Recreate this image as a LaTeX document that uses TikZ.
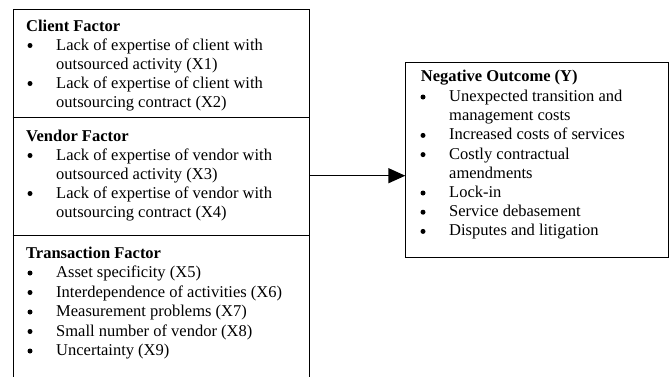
\documentclass[tikz,border=0pt]{standalone}
\usepackage{fontspec}
\setmainfont{Liberation Serif}
\usetikzlibrary{arrows.meta}
\begin{document}
\begin{tikzpicture}[x=1pt,y=-1pt,
  font=\fontsize{16.5}{19.3}\selectfont,
  box/.style={draw, line width=1pt, inner sep=0pt},
  txt/.style={anchor=base west, inner sep=0pt},
  hd/.style={txt, font=\fontsize{16.5}{19.3}\selectfont\bfseries},
  bul/.style={circle, fill, inner sep=0pt, minimum size=5pt, yshift=4.5pt},
  divider/.style={line width=1pt},
  conn/.style={line width=1.4pt, -{Triangle[length=17pt,width=15pt]}}]
\useasboundingbox (0,0) rectangle (670,376);
\fill[white] (0,0) rectangle (670,376);
% boxes
\node[box, minimum width=296.6pt, minimum height=370pt, anchor=north west] (left) at (12.7,9) {};
\node[box, minimum width=263pt, minimum height=195pt, anchor=north west] (right) at (405.3,61.7) {};
\coordinate (d1) at (0,117.5);
\coordinate (d2) at (0,235.5);
\draw[divider] (left.west |- d1) -- (left.east |- d1);
\draw[divider] (left.west |- d2) -- (left.east |- d2);
% connector
\coordinate (ay) at (0,175.7);
\draw[conn] (left.east |- ay) -- (right.west |- ay);
% client factor
\node[hd] (ch) at (26,31) {Client Factor};
\node[bul] (cb1) at (30,50) {};
\node[txt] (c1a) at (56,50) {Lack of expertise of client with};
\node[txt] (c1b) at (56,69) {outsourced activity (X1)};
\node[bul] (cb2) at (30,88) {};
\node[txt] (c2a) at (56,88) {Lack of expertise of client with};
\node[txt] (c2b) at (56,107) {outsourcing contract (X2)};
% vendor factor
\node[hd] (vh) at (26,141) {Vendor Factor};
\node[bul] (vb1) at (30,160) {};
\node[txt] (v1a) at (56,160) {Lack of expertise of vendor with};
\node[txt] (v1b) at (56,179) {outsourced activity (X3)};
\node[bul] (vb2) at (30,198) {};
\node[txt] (v2a) at (56,198) {Lack of expertise of vendor with};
\node[txt] (v2b) at (56,217) {outsourcing contract (X4)};
% transaction factor
\node[hd] (th) at (26,258) {Transaction Factor};
\node[bul] (tb1) at (30,277.5) {};
\node[txt] (t1) at (56,277.5) {Asset specificity (X5)};
\node[bul] (tb2) at (30,297) {};
\node[txt] (t2) at (56,297) {Interdependence of activities (X6)};
\node[bul] (tb3) at (30,316.5) {};
\node[txt] (t3) at (56,316.5) {Measurement problems (X7)};
\node[bul] (tb4) at (30,336) {};
\node[txt] (t4) at (56,336) {Small number of vendor (X8)};
\node[bul] (tb5) at (30,355.5) {};
\node[txt] (t5) at (56,355.5) {Uncertainty (X9)};
% negative outcome
\node[hd] (nh) at (420.7,81.7) {Negative Outcome (Y)};
\node[bul] (nb1) at (423,101.5) {};
\node[txt] (n1a) at (449,101.5) {Unexpected transition and};
\node[txt] (n1b) at (449,120.7) {management costs};
\node[bul] (nb2) at (423,139.9) {};
\node[txt] (n2) at (449,139.9) {Increased costs of services};
\node[bul] (nb3) at (423,159.1) {};
\node[txt] (n3a) at (449,159.1) {Costly contractual};
\node[txt] (n3b) at (449,178.3) {amendments};
\node[bul] (nb4) at (423,197.5) {};
\node[txt] (n4) at (449,197.5) {Lock-in};
\node[bul] (nb5) at (423,216.7) {};
\node[txt] (n5) at (449,216.7) {Service debasement};
\node[bul] (nb6) at (423,235.9) {};
\node[txt] (n6) at (449,235.9) {Disputes and litigation};
\end{tikzpicture}
\end{document}
